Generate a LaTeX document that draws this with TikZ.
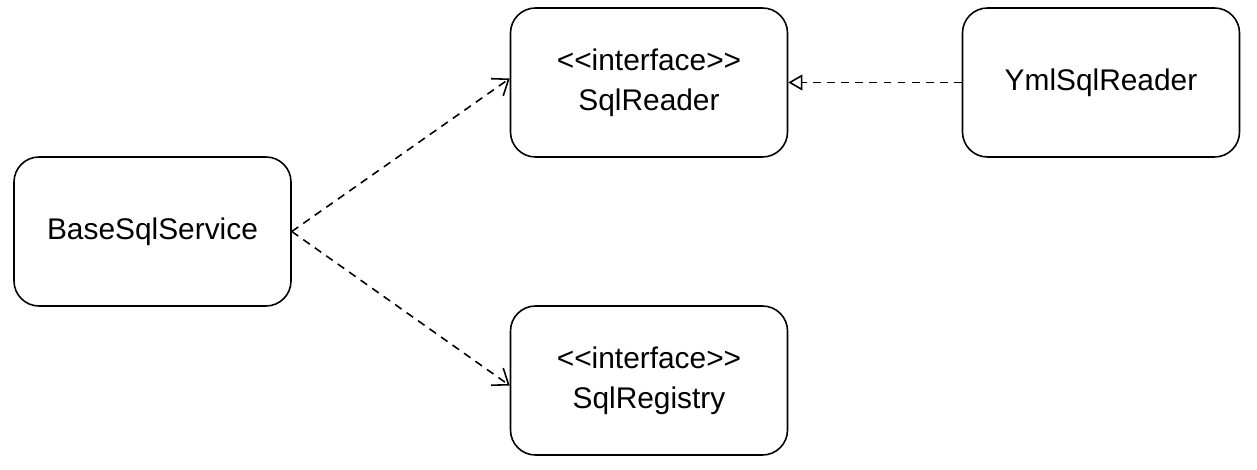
\documentclass[tikz,border=0pt]{standalone}
\usepackage{fontspec}
\setmainfont{Liberation Sans}
\usetikzlibrary{arrows.meta, positioning}

\begin{document}
\begin{tikzpicture}[>={Straight Barb[length=8pt,width=12pt]}, line width=0.9pt,
      cls/.style={draw, rounded corners=0.5cm, minimum width=5.54cm, minimum height=2.98cm,
                  align=center, font=\fontsize{17}{23}\selectfont, fill=white},
      dep/.style={->, dash pattern=on 4.5pt off 3.5pt},
      impl/.style={-{Triangle[open,length=8pt,width=9pt]}, dash pattern=on 4.5pt off 3.5pt}]

    % canvas
    \useasboundingbox (0,0) rectangle (25.14,9.38);

    % classes
    \node[cls] (base) at (3.05,  4.75) {BaseSqlService};
    \node[cls] (reader) at (12.98, 7.73) {<{}<interface>{}>\\SqlReader};
    \node[cls] (yml) at (22.02, 7.73) {YmlSqlReader};
    \node[cls] (registry) at (12.98, 1.77) {<{}<interface>{}>\\SqlRegistry};

    % dependencies
    \draw[dep] (base.east) -- ([yshift=0.08cm]reader.west);
    \draw[dep] (base.east) -- ([yshift=-0.1cm]registry.west);

    % realization
    \draw[impl] (yml.west) -- (reader.east);

\end{tikzpicture}
\end{document}
